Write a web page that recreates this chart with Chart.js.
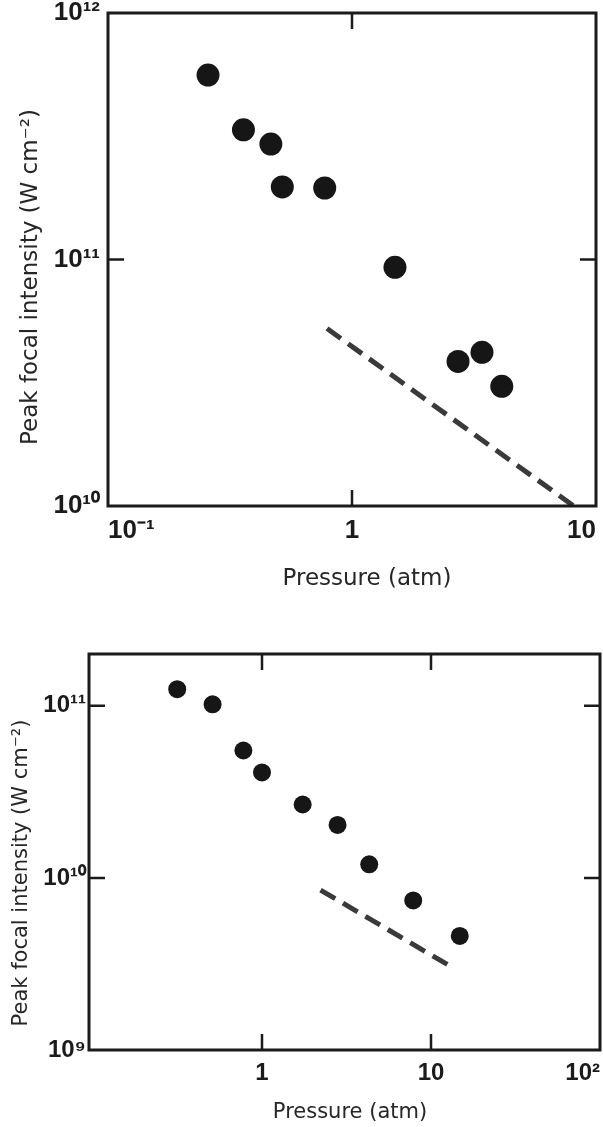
<!DOCTYPE html>
<html>
<head>
<meta charset="utf-8">
<script src="https://cdn.jsdelivr.net/npm/chart.js@4.4.1/dist/chart.umd.min.js"></script>
<style>
  html, body { margin: 0; padding: 0; background: #fff; }
  #wrap { position: relative; width: 603px; height: 1127px; overflow: hidden; }
  canvas { position: absolute; left: 0; }
  #chartA { top: 0; }
  #chartB { top: 600px; }
</style>
</head>
<body>
<div id="wrap">
  <canvas id="chartA" width="603" height="600"></canvas>
  <canvas id="chartB" width="603" height="527"></canvas>
</div>
<script>
// upper plot
const pressureA = [0.257, 0.359, 0.465, 0.518, 0.773, 1.50, 2.72, 3.41, 4.11];
const intensityA = [5.6e11, 3.36e11, 2.94e11, 1.97e11, 1.95e11, 9.3e10, 3.86e10, 4.2e10, 3.06e10];
const lineAx = [0.79, 8.1];
const lineAy = [5.25e10, 1.0e10];
const xTicksA = [0.1, 1, 10];
const xLabelsA = ['10⁻¹', '1', '10'];
const yTicksA = [1e10, 1e11, 1e12];
const yLabelsA = ['10¹⁰', '10¹¹', '10¹²'];

// lower plot (axis starts a little left of 0.1, no label there)
const pressureB = [0.315, 0.51, 0.776, 1.0, 1.74, 2.8, 4.31, 7.85, 14.8];
const intensityB = [1.25e11, 1.02e11, 5.5e10, 4.1e10, 2.67e10, 2.03e10, 1.2e10, 7.4e9, 4.6e9];
const lineBx = [2.22, 13.0];
const lineBy = [8.5e9, 3.07e9];
const xTicksB = [0.0947, 1, 10, 100];
const xLabelsB = ['', '1', '10', '10²'];
const yTicksB = [1e9, 1e10, 1e11];
const yLabelsB = ['10⁹', '10¹⁰', '10¹¹'];

const xTitle = 'Pressure (atm)';
const yTitle = 'Peak focal intensity (W cm⁻²)';

const ink = '#1b1b1b';
const tickFont = { family: '"Liberation Sans", Arial, sans-serif', weight: 'bold' };

// frame box, inward tick marks and axis titles
const frameTicks = {
  id: 'frameTicks',
  afterDraw(chart, args, o) {
    const { ctx, chartArea: a, scales } = chart;
    ctx.save();
    ctx.strokeStyle = ink;
    ctx.lineWidth = 3;
    ctx.strokeRect(a.left, a.top, a.right - a.left, a.bottom - a.top);
    ctx.lineWidth = 2.5;
    ctx.beginPath();
    scales.x.ticks.forEach(t => {
      const px = scales.x.getPixelForValue(t.value);
      if (px < a.left + 3 || px > a.right - 3) return;
      ctx.moveTo(px, a.top); ctx.lineTo(px, a.top + o.len);
      ctx.moveTo(px, a.bottom); ctx.lineTo(px, a.bottom - o.len);
    });
    scales.y.ticks.forEach(t => {
      const py = scales.y.getPixelForValue(t.value);
      if (py < a.top + 3 || py > a.bottom - 3) return;
      ctx.moveTo(a.left, py); ctx.lineTo(a.left + o.len, py);
      ctx.moveTo(a.right, py); ctx.lineTo(a.right - o.len, py);
    });
    ctx.stroke();

    ctx.fillStyle = '#262626';
    ctx.font = o.titleSize + 'px "DejaVu Sans", sans-serif';
    ctx.textAlign = 'center';
    ctx.textBaseline = 'middle';
    ctx.fillText(xTitle, o.xt[0], o.xt[1]);
    ctx.translate(o.yt[0], o.yt[1]);
    ctx.rotate(-Math.PI / 2);
    ctx.fillText(yTitle, 0, 0);
    ctx.restore();
  }
};

function makeChart(id, cfg) {
  const pts = cfg.px.map((v, i) => ({ x: v, y: cfg.py[i] }));
  const line = cfg.lx.map((v, i) => ({ x: v, y: cfg.ly[i] }));
  return new Chart(document.getElementById(id), {
    type: 'scatter',
    data: {
      datasets: [
        {
          data: line,
          showLine: true,
          borderColor: '#3a3a3a',
          borderWidth: 5,
          borderDash: [17, 9],
          pointRadius: 0
        },
        {
          data: pts,
          pointRadius: cfg.r,
          backgroundColor: '#161616',
          borderWidth: 0
        }
      ]
    },
    options: {
      responsive: false,
      animation: false,
      devicePixelRatio: 1,
      layout: { autoPadding: false, padding: cfg.pad },
      plugins: {
        legend: { display: false },
        tooltip: { enabled: false },
        frameTicks: { len: 16, titleSize: cfg.ts, xt: cfg.xt, yt: cfg.yt }
      },
      scales: {
        x: {
          type: 'logarithmic',
          min: cfg.xmin, max: cfg.xmax,
          grid: { display: false, drawTicks: false },
          border: { display: false },
          afterBuildTicks: s => { s.ticks = cfg.xt2.map(v => ({ value: v })); },
          afterFit: s => { s.height = cfg.xh; s.paddingLeft = 0; s.paddingRight = 0; },
          ticks: {
            color: ink, padding: cfg.xpad, maxRotation: 0, autoSkip: false, align: 'inner',
            font: Object.assign({ size: cfg.fs }, tickFont),
            callback: (v, i) => cfg.xl[i]
          }
        },
        y: {
          type: 'logarithmic',
          min: cfg.ymin, max: cfg.ymax,
          grid: { display: false, drawTicks: false },
          border: { display: false },
          afterBuildTicks: s => { s.ticks = cfg.yt2.map(v => ({ value: v })); },
          afterFit: s => { s.width = cfg.yw; s.paddingTop = 0; s.paddingBottom = 0; },
          ticks: {
            color: ink, padding: cfg.ypad, autoSkip: false,
            font: Object.assign({ size: cfg.fs }, tickFont),
            callback: (v, i) => cfg.yl[i]
          }
        }
      }
    },
    plugins: [frameTicks]
  });
}

makeChart('chartA', {
  px: pressureA, py: intensityA, lx: lineAx, ly: lineAy, r: 11.5,
  xmin: 0.1, xmax: 10, ymin: 1e10, ymax: 1e12,
  xt2: xTicksA, xl: xLabelsA, yt2: yTicksA, yl: yLabelsA,
  pad: { top: 13, right: 7, left: 0, bottom: 0 },
  xh: 94, yw: 108, xpad: 9, ypad: 8, fs: 26,
  ts: 23, xt: [367, 579], yt: [31, 277]
});

makeChart('chartB', {
  px: pressureB, py: intensityB, lx: lineBx, ly: lineBy, r: 9,
  xmin: 0.0947, xmax: 100, ymin: 1e9, ymax: 2e11,
  xt2: xTicksB, xl: xLabelsB, yt2: yTicksB, yl: yLabelsB,
  pad: { top: 54, right: 3, left: 0, bottom: 0 },
  xh: 77, yw: 89, xpad: 9, ypad: 3, fs: 24,
  ts: 21, xt: [350, 513], yt: [22, 273]
});
</script>
</body>
</html>
